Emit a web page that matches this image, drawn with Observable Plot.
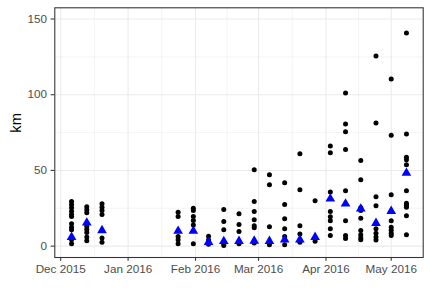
<!DOCTYPE html>
<html><head><meta charset="utf-8">
<script src="https://cdn.jsdelivr.net/npm/d3@7"></script>
<script src="https://cdn.jsdelivr.net/npm/@observablehq/plot@0.6"></script>
<style>body{margin:0;background:#fff}</style>
</head><body><div id="chart"></div>
<script>
const weekDates = ["2015-12-06","2015-12-13","2015-12-20","2016-01-24","2016-01-31","2016-02-07","2016-02-14","2016-02-21","2016-02-28","2016-03-06","2016-03-13","2016-03-20","2016-03-27","2016-04-03","2016-04-10","2016-04-17","2016-04-24","2016-05-01","2016-05-08"];
const weekKm = [
  [29.5, 27.5, 25.3, 23.1, 20.9, 19.6, 14.8, 12.5, 10.8, 4.2, 1.6],
  [26, 24, 22, 13, 11, 9, 6, 3.5],
  [28, 25.7, 23.5, 20.9, 5.3, 2.6],
  [22.4, 19.6, 6.4, 4.2, 1.6],
  [25.1, 23.5, 19.6, 17, 13.9, 1.6],
  [6.6, 4, 1.3],
  [24.2, 16.3, 10.8, 1.5, 0.5],
  [21.4, 14.3, 9.7, 1.5],
  [50.5, 29.4, 22.8, 17.5, 13.4, 12.1, 2],
  [47.1, 40.5, 12.8, 1],
  [41.8, 27.5, 18.1, 11.5, 6.4, 1],
  [61, 37.2, 13.4, 8, 2.5],
  [29.9, 3.3],
  [66.2, 61.6, 35.8, 22.8, 19.4, 16.8, 11.5, 7],
  [101.2, 80.7, 75.5, 63.8, 36.5, 16.8, 7, 5],
  [56.5, 43.8, 25.3, 23.5, 18.5, 10.4, 7.5, 5.5, 4.2],
  [125.6, 81.4, 32.6, 26.6, 11.5, 8.5, 6, 4],
  [110.4, 73.2, 34, 16.8, 12.5, 10.5, 8.5, 7],
  [140.8, 74.1, 58.7, 57, 53.8, 36.5, 28.4, 27, 25.7, 20.1, 7.5]
];
const weekMarker = [5.9, 15.4, 10.4, 10, 10, 2.6, 3.2, 3.3, 3.5, 3.3, 4.2, 4.2, 5.9, 31.3, 28, 24.7, 15.2, 23.1, 48.3];
const yTicks = [0, 50, 100, 150];
const yMinor = [25, 75, 125];
const xTicks = ["2015-12-01","2016-01-01","2016-02-01","2016-03-01","2016-04-01","2016-05-01"];
const xMinor = ["2015-12-16T12:00","2016-01-16T12:00","2016-02-15T12:00","2016-03-16T12:00","2016-04-16T00:00"];
const yLabel = "km";

const toDate = s => new Date(s.length > 10 ? s + "Z" : s + "T00:00Z");
const points = weekDates.flatMap((d, i) => weekKm[i].map(v => ({date: toDate(d), km: v})));
const markers = weekDates.map((d, i) => ({date: toDate(d), km: weekMarker[i]}));
const xTickDates = xTicks.map(toDate);
const xMinorDates = xMinor.map(toDate);
const fmt = d3.utcFormat("%b %Y");

const chart = Plot.plot({
  width: 430, height: 301,
  marginLeft: 54.3, marginRight: 7.3, marginTop: 7.3, marginBottom: 44,
  style: {fontFamily: "'Liberation Sans', Arial, sans-serif", fontSize: "11.7px", background: "#fff"},
  x: {type: "utc", domain: [new Date(Date.UTC(2015, 10, 28, 7)), new Date(Date.UTC(2016, 4, 15, 17))]},
  y: {domain: [-7.5, 157.4]},
  marks: [
    Plot.ruleY(yMinor, {stroke: "#EBEBEB", strokeWidth: 0.53}),
    Plot.ruleX(xMinorDates, {stroke: "#EBEBEB", strokeWidth: 0.53}),
    Plot.ruleY(yTicks, {stroke: "#EBEBEB", strokeWidth: 1.07}),
    Plot.ruleX(xTickDates, {stroke: "#EBEBEB", strokeWidth: 1.07}),
    Plot.axisY({ticks: yTicks, tickSize: 3.7, tickPadding: 4, stroke: "#333333", fill: "#4D4D4D", strokeWidth: 1.07, label: null}),
    Plot.axisX({ticks: xTickDates, tickSize: 3.7, tickPadding: 3.5, stroke: "#333333", fill: "#4D4D4D", strokeWidth: 1.07, tickFormat: fmt, label: null}),
    Plot.dot(points, {x: "date", y: "km", r: 2.5, fill: "black", stroke: "none"}),
    Plot.dot(markers, {x: "date", y: "km", r: 3.6, symbol: "triangle", fill: "#0000FF", stroke: "none"}),
    Plot.frame({stroke: "#333333", strokeWidth: 1.07}),
    Plot.text([yLabel], {frameAnchor: "left", dx: -39, rotate: -90, fontSize: 14.7, fill: "black"})
  ]
});
document.getElementById("chart").appendChild(chart);
</script>
</body></html>
